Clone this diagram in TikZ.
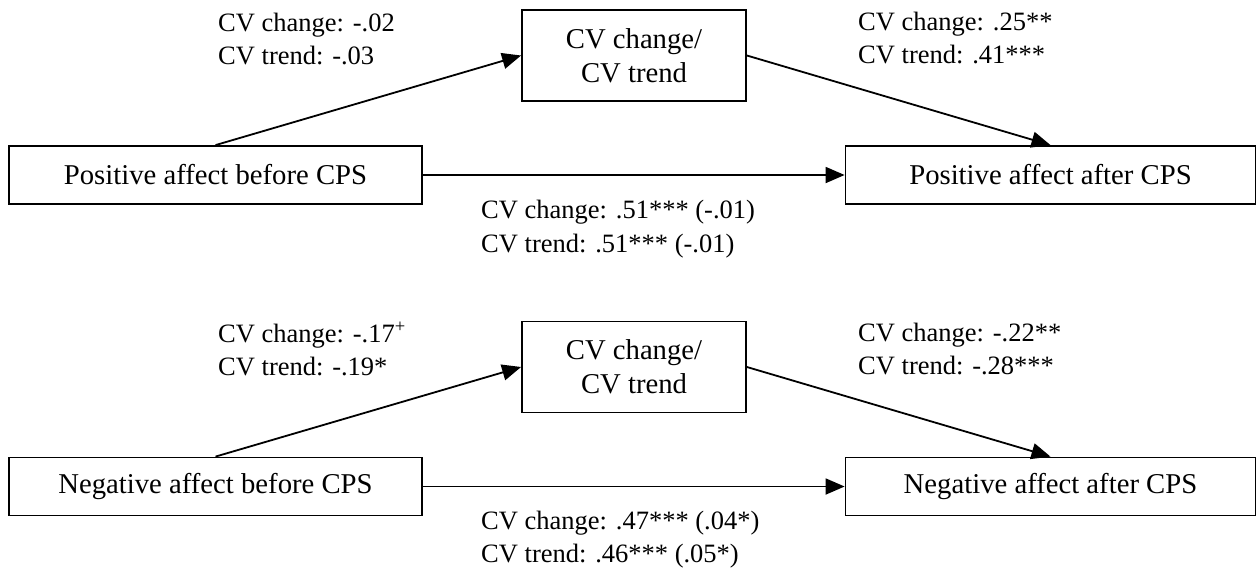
\documentclass[tikz,border=0pt]{standalone}
\usepackage{fontspec}
\setmainfont{Liberation Serif}
\usetikzlibrary{arrows.meta}
\tikzset{
  boxnode/.style={draw=black, line width=1.8pt, inner sep=0pt, align=center,
    font=\fontsize{28.7}{34}\selectfont},
  lbl/.style={inner sep=0pt, anchor=base west, font=\fontsize{26.5}{33}\selectfont},
  conn/.style={line width=1.8pt, -{Triangle[length=19pt,width=16pt]}}
}
\begin{document}
\begin{tikzpicture}[x=1pt,y=-1pt]
\useasboundingbox (0,0) rectangle (1257,571);
% ---------- top panel ----------
\node[boxnode, minimum width=413pt, minimum height=58pt] (pb) at (215.5,175) {Positive affect before CPS};
\node[boxnode, minimum width=224pt, minimum height=91pt] (pm) at (634,55.5) {CV change/\\CV trend};
\node[boxnode, minimum width=410pt, minimum height=58pt] (pa) at (1050.5,175) {Positive affect after CPS};
\draw[conn] (pb.north) -- (pm.west);
\draw[conn] (pm.east) -- (pa.north);
\draw[conn] (pb.east) -- (pa.west);
\node[lbl] (pl1) at (218,31) {CV change: -.02};
\node[lbl] (pl2) at (218,64) {CV trend: -.03};
\node[lbl] (pr1) at (858,30) {CV change: .25**};
\node[lbl] (pr2) at (858,63) {CV trend: .41***};
\node[lbl] (pd1) at (481,218) {CV change: .51*** (-.01)};
\node[lbl] (pd2) at (481,252) {CV trend: .51*** (-.01)};
% ---------- bottom panel ----------
\node[boxnode, minimum width=413pt, minimum height=58pt] (nb) at (215.5,486.5) {Negative affect before CPS};
\node[boxnode, minimum width=224pt, minimum height=91pt] (nm) at (634,367) {CV change/\\CV trend};
\node[boxnode, minimum width=410pt, minimum height=58pt] (na) at (1050.5,486.5) {Negative affect after CPS};
\draw[conn] (nb.north) -- (nm.west);
\draw[conn] (nm.east) -- (na.north);
\draw[conn] (nb.east) -- (na.west);
\node[lbl] (nl1) at (218,342) {CV change: -.17\textsuperscript{+}};
\node[lbl] (nl2) at (218,375) {CV trend: -.19*};
\node[lbl] (nr1) at (858,341) {CV change: -.22**};
\node[lbl] (nr2) at (858,374) {CV trend: -.28***};
\node[lbl] (nd1) at (481,529) {CV change: .47*** (.04*)};
\node[lbl] (nd2) at (481,562) {CV trend: .46*** (.05*)};
\end{tikzpicture}
\end{document}
